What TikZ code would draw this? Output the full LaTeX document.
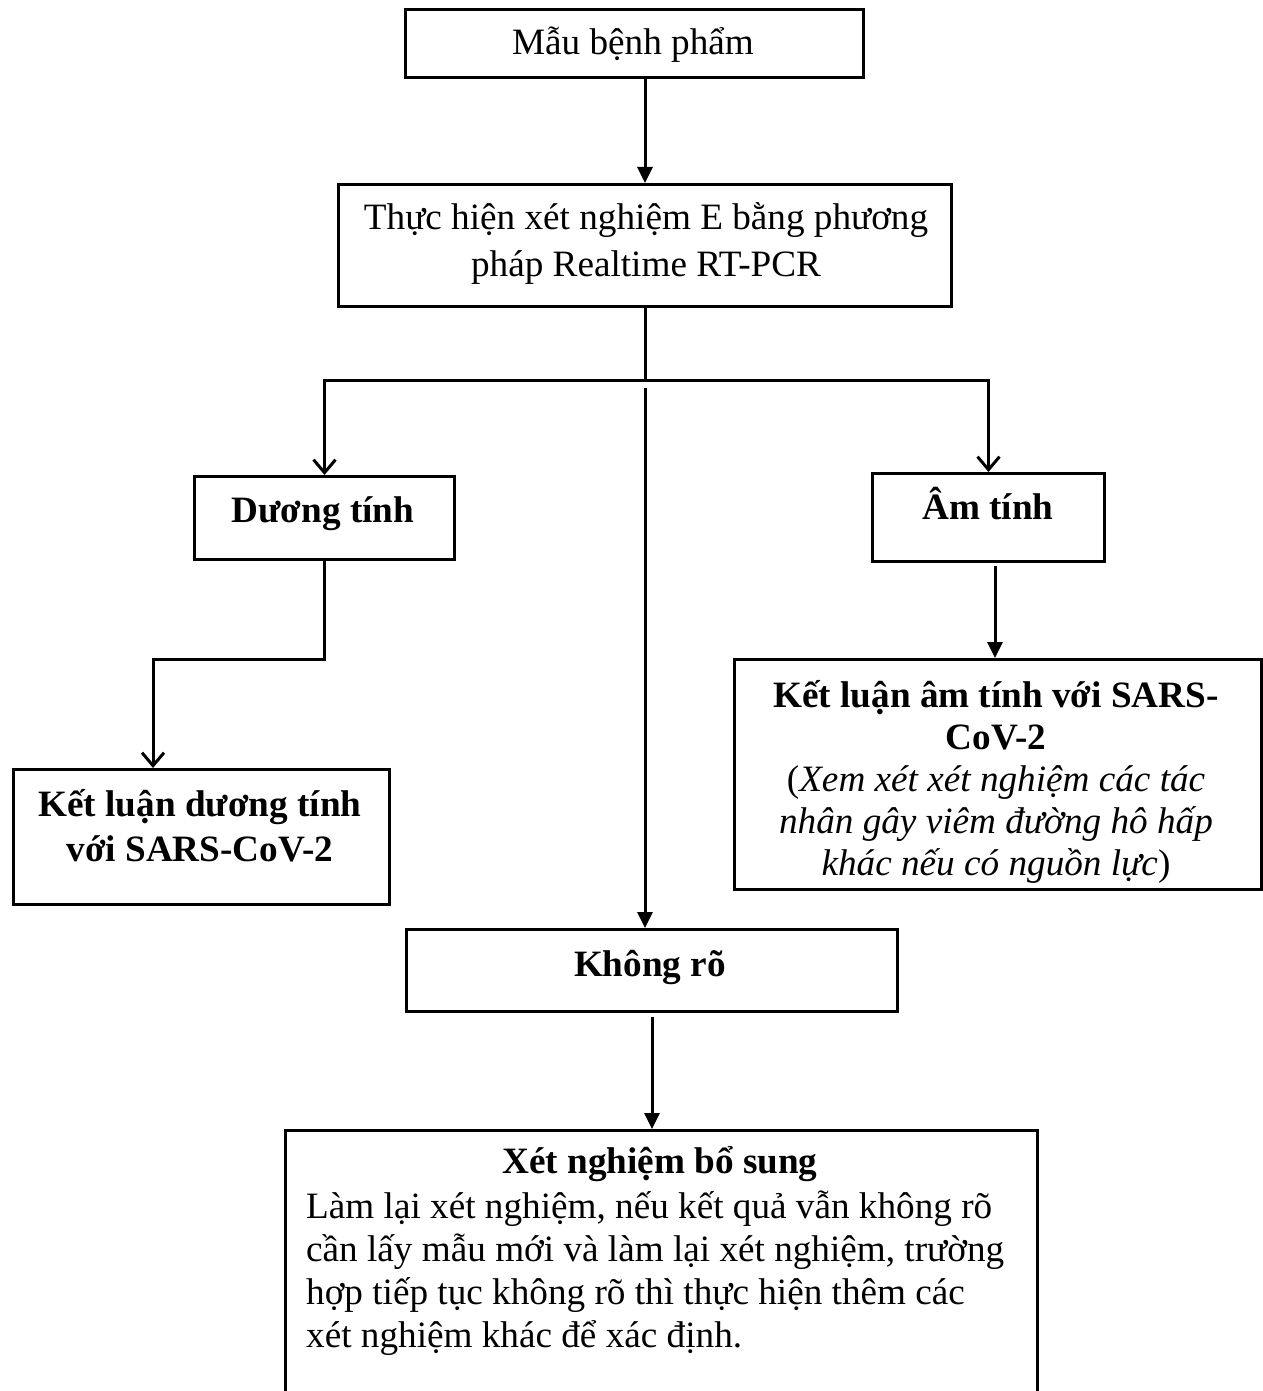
\documentclass[tikz,border=0pt]{standalone}
\usepackage{fontspec}
\setmainfont{Liberation Serif}
\usetikzlibrary{arrows.meta,calc}
\begin{document}
\begin{tikzpicture}[x=1pt,y=-1pt,
  box/.style={draw,line width=3pt,inner sep=0pt,anchor=north west},
  txt/.style={font=\fontsize{37.2}{43}\selectfont,inner sep=0pt,align=center},
  btxt/.style={txt,font=\fontsize{37.2}{43}\selectfont\bfseries},
  conn/.style={line width=3pt},
  filarr/.style={conn,-{Triangle[length=16pt,width=15pt]}},
  openarr/.style={conn,-{Straight Barb[length=13pt,width=22pt]}}]
\useasboundingbox (0,0) rectangle (1262,1391);
% boxes
\node[box,minimum width=458pt,minimum height=68pt] (b1) at (404,8) {};
\node[txt] (t1) at (633,45) {Mẫu bệnh phẩm};
\node[box,minimum width=613pt,minimum height=122pt] (b2) at (337,183) {};
\node[txt,font=\fontsize{37.2}{47}\selectfont] (t2) at (646,243)
  {Thực hiện xét nghiệm E bằng phương\\pháp Realtime RT-PCR};
\node[box,minimum width=260pt,minimum height=83pt] (b3) at (193,475) {};
\node[btxt] (t3) at (323,514) {Dương tính};
\node[box,minimum width=232pt,minimum height=88pt] (b4) at (871,472) {};
\node[btxt] (t4) at (988,504) {Âm tính};
\node[box,minimum width=376pt,minimum height=135pt] (b5) at (12,768) {};
\node[btxt,font=\fontsize{37.2}{45}\selectfont\bfseries] (t5) at (200,826)
  {Kết luận dương tính\\với SARS-CoV-2};
\node[box,minimum width=527pt,minimum height=230pt] (b6) at (733,658) {};
\node[txt,font=\fontsize{37.2}{42}\selectfont] (t6) at (996,782)
  {\textbf{Kết luận âm tính với SARS-}\\\textbf{CoV-2}\\(\textit{Xem xét xét nghiệm các tác}\\\textit{nhân gây viêm đường hô hấp}\\\textit{khác nếu có nguồn lực})};
\node[box,minimum width=491pt,minimum height=82pt] (b7) at (405,928) {};
\node[btxt] (t7) at (650,967) {Không rõ};
\node[box,minimum width=752pt,minimum height=300pt] (b8) at (284,1129) {};
\node[btxt,anchor=base] (h8) at (660,1173) {Xét nghiệm bổ sung};
\node[txt,anchor=base west] (l1) at (306,1218) {Làm lại xét nghiệm, nếu kết quả vẫn không rõ};
\node[txt,anchor=base west] (l2) at (306,1261) {cần lấy mẫu mới và làm lại xét nghiệm, trường};
\node[txt,anchor=base west] (l3) at (306,1304) {hợp tiếp tục không rõ thì thực hiện thêm các};
\node[txt,anchor=base west] (l4) at (306,1347) {xét nghiệm khác để xác định.};
% connectors
\draw[filarr] (b1.south -| b2.north) -- (b2.north);
\coordinate (split) at (645,380);
\draw[conn] (split |- b2.south) -- (split);
\draw[openarr] (split) -| (b3.north);
\draw[openarr] (split) -| (b4.north);
\coordinate (cstart) at (645,388);
\draw[filarr] (cstart) -- (cstart |- b7.north);
\coordinate (bend3) at (153,659);
\draw[openarr] (b3.south) |- (bend3) -- (bend3 |- b5.north);
\draw[filarr] ([yshift=-3pt]b4.south -| 995,0) -- (b6.north -| 995,0);
\draw[filarr] ([yshift=-4pt]b7.south) -- (b7.south |- b8.north);
\end{tikzpicture}
\end{document}
